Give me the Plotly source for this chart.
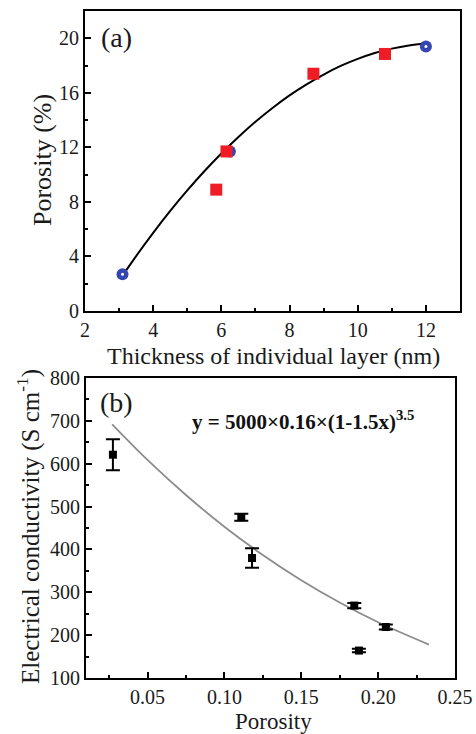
import plotly.graph_objects as go

# ---- Panel (a) data ----
thick_blue = [3.1, 6.25, 12.0]
poro_blue = [2.7, 11.7, 19.4]
thick_red = [5.85, 6.15, 8.7, 10.8]
poro_red = [8.9, 11.7, 17.4, 18.85]
fit_a_x = [3.1, 3.5, 4.0, 4.5, 5.0, 5.5, 6.0, 6.5, 7.0, 7.5, 8.0, 8.5, 9.0, 9.5, 10.0, 10.5, 11.0, 11.5, 12.0]
fit_a_y = [2.60, 4.03, 5.73, 7.34, 8.84, 10.25, 11.55, 12.76, 13.88, 14.89, 15.81, 16.62, 17.34, 17.97, 18.49, 18.92, 19.24, 19.47, 19.61]

# ---- Panel (b) data ----
por_b = [0.0275, 0.111, 0.118, 0.1845, 0.205, 0.1875]
cond_b = [621, 475, 380, 269, 219, 164]
cond_err = [36, 8, 23, 6, 6, 4]
fit_b_x = [0.027, 0.05, 0.075, 0.1, 0.125, 0.15, 0.175, 0.2, 0.233]
fit_b_y = [692, 609, 527, 453, 387, 328, 276, 230, 178]

FONT = "Liberation Serif"
TXT = "#1a1a1a"

fig = go.Figure()

fig.add_trace(go.Scatter(x=fit_a_x, y=fit_a_y, mode="lines", line=dict(color="black", width=2, shape="spline"),
                         xaxis="x", yaxis="y", showlegend=False))
fig.add_trace(go.Scatter(x=thick_blue, y=poro_blue, mode="markers",
                         marker=dict(symbol="circle", size=12, color="#3646b0"),
                         xaxis="x", yaxis="y", showlegend=False))
fig.add_trace(go.Scatter(x=thick_blue, y=poro_blue, mode="markers",
                         marker=dict(symbol="circle", size=3, color="white"),
                         xaxis="x", yaxis="y", showlegend=False))
fig.add_trace(go.Scatter(x=thick_red, y=poro_red, mode="markers",
                         marker=dict(symbol="square", size=12, color="#ee1c25"),
                         xaxis="x", yaxis="y", showlegend=False))

fig.add_trace(go.Scatter(x=fit_b_x, y=fit_b_y, mode="lines", line=dict(color="#8c8c8c", width=1.8, shape="spline"),
                         xaxis="x2", yaxis="y2", showlegend=False))
fig.add_trace(go.Scatter(x=por_b, y=cond_b, mode="markers",
                         marker=dict(symbol="square", size=8, color="black"),
                         error_y=dict(type="data", array=cond_err, color="black", thickness=2, width=7),
                         xaxis="x2", yaxis="y2", showlegend=False))

axis_common = dict(showline=True, linecolor="black", linewidth=2, mirror=True, ticks="inside",
                   ticklen=6, tickwidth=1.5, tickcolor="black", showgrid=False, zeroline=False,
                   automargin=False, tickfont=dict(family=FONT, size=20, color=TXT))

fig.update_layout(
    width=476, height=734,
    autosize=False,
    margin=dict(l=0, r=0, t=0, b=0, pad=0),
    paper_bgcolor="white", plot_bgcolor="white",
    xaxis=dict(domain=[85/476, 460/476], range=[2, 13], tickvals=[2, 4, 6, 8, 10, 12],
               minor=dict(ticks="inside", ticklen=3, tickcolor="black", dtick=1, tick0=2),
               anchor="y", **axis_common),
    yaxis=dict(domain=[1-311/734, 1-11/734], range=[0, 22], tickvals=[0, 4, 8, 12, 16, 20],
               minor=dict(ticks="inside", ticklen=3, tickcolor="black", dtick=2, tick0=0),
               anchor="x", **axis_common),
    xaxis2=dict(domain=[86/476, 455/476], range=[0.01, 0.25], tickvals=[0.05, 0.10, 0.15, 0.20, 0.25],
                ticktext=["0.05", "0.10", "0.15", "0.20", "0.25"],
                minor=dict(ticks="inside", ticklen=3, tickcolor="black", dtick=0.025, tick0=0.025),
                anchor="y2", **axis_common),
    yaxis2=dict(domain=[1-678/734, 1-378/734], range=[100, 800], tickvals=[100, 200, 300, 400, 500, 600, 700, 800],
                minor=dict(ticks="inside", ticklen=3, tickcolor="black", dtick=50, tick0=50),
                anchor="x2", **axis_common),
)

ann = [
    dict(text="(a)", x=116/476, y=1-37/734, font=dict(family=FONT, size=28, color=TXT)),
    dict(text="(b)", x=116/476, y=1-402/734, font=dict(family=FONT, size=28, color=TXT)),
    dict(text="Thickness of individual layer (nm)", x=273/476, y=1-356/734, font=dict(family=FONT, size=24, color=TXT)),
    dict(text="Porosity (%)", x=42/476, y=1-160/734, textangle=-90, font=dict(family=FONT, size=26, color=TXT)),
    dict(text="Porosity", x=273/476, y=1-721/734, font=dict(family=FONT, size=23, color=TXT)),
    dict(text="Electrical conductivity (S cm<sup>-1</sup>)", x=28/476, y=1-527/734, textangle=-90,
         font=dict(family=FONT, size=25, color=TXT)),
    dict(text="<b>y = 5000×0.16×(1-1.5x)<sup>3.5</sup></b>", x=303/476, y=1-420/734,
         font=dict(family=FONT, size=21, color="#111")),
]
fig.update_layout(annotations=[dict(xref="paper", yref="paper", showarrow=False, xanchor="center", yanchor="middle", **a) for a in ann])

fig.write_html("out.html", config={"displayModeBar": False},
               post_script="document.body.style.margin='0';document.body.style.overflow='hidden';")
